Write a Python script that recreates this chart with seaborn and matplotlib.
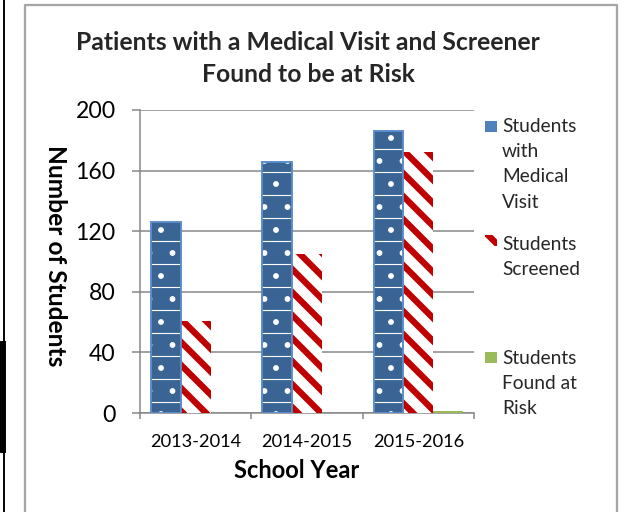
import pandas as pd
import matplotlib
matplotlib.use("Agg")
import matplotlib.pyplot as plt
from matplotlib.patches import Rectangle
from matplotlib.lines import Line2D
import seaborn as sns

# values
years = ["2013-2014", "2014-2015", "2015-2016"]
series = ["Students with Medical Visit", "Students Screened", "Students Found at Risk"]
medical_visit = [126, 166, 186]
screened = [61, 105, 172]
found_at_risk = [0, 0, 1]
legend_labels = [["Students", "with", "Medical", "Visit"],
                 ["Students", "Screened"],
                 ["Students", "Found at", "Risk"]]
title_lines = ["Patients with a Medical Visit and Screener", "Found to be at Risk"]
y_ticks = [0, 40, 80, 120, 160, 200]

W, H = 626, 512
DPI = 138  # hatch spacing scales with dpi, this gives ~23px stripes


def fx(x):
    return x / W


def fy(y):
    return 1 - y / H


def hatch_lw(patch, lw):
    if hasattr(patch, "set_hatch_linewidth"):
        patch.set_hatch_linewidth(lw)


sns.set_theme(style="white")
plt.rcParams["font.family"] = ["Lato", "DejaVu Sans"]
plt.rcParams["hatch.linewidth"] = 3.5

df = pd.DataFrame({"Year": years,
                   series[0]: medical_visit,
                   series[1]: screened,
                   series[2]: found_at_risk})
long = df.melt(id_vars="Year", var_name="Series", value_name="Students")

fig = plt.figure(figsize=(W / DPI, H / DPI), dpi=DPI)
ax = fig.add_axes([fx(140), fy(413), 334 / W, 303 / H])

palette = {series[0]: "#3A6494", series[1]: "#FFFFFF", series[2]: "#9BBB59"}
sns.barplot(data=long, x="Year", y="Students", hue="Series", hue_order=series,
            palette=palette, width=0.8, saturation=1, legend=False, ax=ax, zorder=3)

blue_bars, red_bars, green_bars = ax.containers
for bar in blue_bars:
    bar.set_edgecolor("white")
    bar.set_linewidth(0)
    bar.set_hatch(".-")
    hatch_lw(bar, 0.6)
    ax.add_patch(Rectangle(bar.get_xy(), bar.get_width(), bar.get_height(),
                           fill=False, edgecolor="#5B8DCB", lw=1.0, zorder=4))
for bar in red_bars:
    bar.set_facecolor("white")
    bar.set_edgecolor("#C00000")
    bar.set_linewidth(0)
    bar.set_hatch("\\\\")
    hatch_lw(bar, 3.3)
for bar in green_bars:
    bar.set_linewidth(0)

grey = "#878787"
ax.set_ylim(0, 200)
ax.set_yticks(y_ticks)
ax.yaxis.grid(True, color=grey, lw=0.8)
ax.set_axisbelow(True)
for side in ["top", "right"]:
    ax.spines[side].set_visible(False)
for side in ["left", "bottom"]:
    ax.spines[side].set_color(grey)
    ax.spines[side].set_linewidth(0.8)

ax.set_xticks([-0.5, 0.5, 1.5, 2.5], minor=True)
ax.tick_params(axis="x", which="major", length=0, pad=11, labelsize=9.5, labelcolor="black")
ax.tick_params(axis="x", which="minor", length=3, width=0.8, color=grey, direction="out")
ax.tick_params(axis="y", length=4.2, width=0.8, color=grey, direction="out",
               pad=8.5, labelsize=12, labelcolor="black")
ax.tick_params(left=True, bottom=True, which="both")

ax.set_xlabel("School Year", fontsize=12.3, fontweight="bold", color="black")
ax.xaxis.set_label_coords((297 - 140) / 334, (413 - 470) / 303)
ax.xaxis.label.set_va("center")
ax.set_ylabel("Number of Students", fontsize=12.8, fontweight="bold", color="black",
              rotation=270)
ax.yaxis.set_label_coords((55 - 140) / 334, (413 - 256) / 303)
ax.yaxis.label.set_va("center")
ax.yaxis.label.set_ha("center")

for y, line in zip([41, 72], title_lines):
    fig.text(fx(308), fy(y), line, ha="center", va="center_baseline",
             fontsize=12.9, fontweight="bold")

# legend drawn by hand so the markers sit on the first text line
marker_tops = [121, 235, 352]
first_lines = [125, 243, 357]
marker_styles = [dict(facecolor="#4F81BD", edgecolor="none"),
                 dict(facecolor="white", edgecolor="#C00000", hatch="\\\\", lw=0),
                 dict(facecolor="#9BBB59", edgecolor="none")]
for top, first, lines, style in zip(marker_tops, first_lines, legend_labels, marker_styles):
    m = Rectangle((fx(485), fy(top + 11)), 12 / W, 11 / H, transform=fig.transFigure, **style)
    hatch_lw(m, 3.3)
    fig.add_artist(m)
    for i, line in enumerate(lines):
        fig.text(fx(502), fy(first + 25.5 * i + 6.5), line, ha="left", va="baseline",
                 fontsize=10)

# chart frame and the black edge on the left
frame = "#A6A6A6"
fig.add_artist(Line2D([fx(25), fx(25), fx(617), fx(617)], [0, fy(5), fy(5), 0],
                      color=frame, lw=1.2, transform=fig.transFigure))
fig.add_artist(Line2D([fx(3.5), fx(3.5)], [0, 1], color="black", lw=1.0,
                      transform=fig.transFigure))
fig.add_artist(Rectangle((0, fy(452)), 5 / W, 110 / H, color="black",
                         transform=fig.transFigure))

fig.savefig("out.png", dpi=DPI)
